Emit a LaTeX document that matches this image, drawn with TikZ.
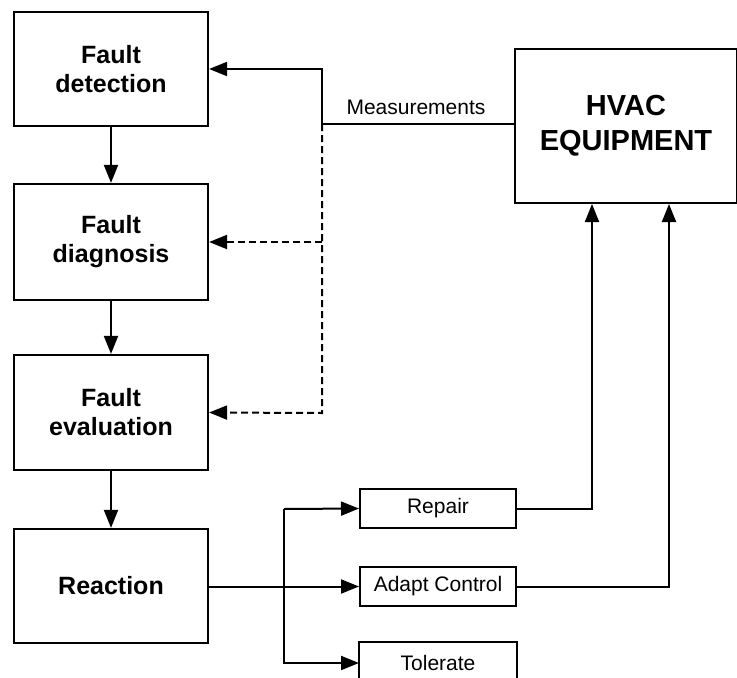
\documentclass[tikz,border=0pt]{standalone}
\usepackage{fontspec}
\setmainfont{Liberation Sans}
\usetikzlibrary{arrows.meta}
\begin{document}
\begin{tikzpicture}[x=1pt,y=-1pt,
  bigbox/.style={draw,line width=2.2pt,minimum width=194pt,minimum height=114pt,inner sep=0pt,align=center,font=\fontsize{25}{29}\selectfont\bfseries},
  smallbox/.style={draw,line width=2pt,minimum width=156pt,minimum height=39pt,inner sep=0pt,font=\fontsize{21}{24}\selectfont},
  conn/.style={line width=2pt,-{Triangle[length=18pt,width=14pt]}},
  dashconn/.style={line width=2pt,dash pattern=on 7pt off 4pt,-{Triangle[length=18pt,width=14pt]}}]
\useasboundingbox (0,0) rectangle (737,678);
\clip (0,0) rectangle (737,678);
\node[bigbox] (det) at (111,69) {Fault\\detection};
\node[bigbox,minimum height=116pt] (diag) at (111,242) {Fault\\diagnosis};
\node[bigbox,minimum height=115pt] (eval) at (111,412.5) {Fault\\evaluation};
\node[bigbox] (react) at (111,586) {Reaction};
\node[draw,line width=2.2pt,minimum width=222pt,minimum height=154pt,inner sep=0pt,align=center,
  font=\fontsize{29}{35}\selectfont\bfseries] (hvac) at (626,126) {HVAC\\EQUIPMENT};
\node[smallbox] (rep) at (438,508.5) {Repair};
\node[smallbox] (adapt) at (438,586.5) {Adapt Control};
\node[smallbox,draw=none,minimum height=40pt] (tol) at (438,663) {Tolerate};
\draw[line width=2pt] ([yshift=-30pt]tol.south west) -- (tol.north west) -- (tol.north east) -- ([yshift=-30pt]tol.south east);
\node[font=\fontsize{21}{24}\selectfont] (meas) at (416,107) {Measurements};
\coordinate (m) at (322,124);
\coordinate (d1) at (322,242);
\coordinate (d2) at (322,413);
\coordinate (b1) at (284,509);
\coordinate (b2) at (284,663);
\coordinate (h1) at (592,204);
\coordinate (h2) at (669,204);
% vertical chain
\draw[conn] (det) -- (diag);
\draw[conn] (diag) -- (eval);
\draw[conn] (eval) -- (react);
% measurements
\draw[conn] (m -| hvac.west) -- (m) |- (det.east);
\draw[dashconn] (m) -- (d2) -- (eval.east);
\draw[dashconn] (d1) -- (diag.east);
% reaction
\draw[conn] (react.east |- adapt.west) -- (adapt.west);
\draw[conn] (b1) -- (rep.west);
\draw[conn] (b1) -- (b2) -- (tol.west);
% to HVAC
\draw[conn] (rep.east) -| (h1);
\draw[conn] (adapt.east) -| (h2);
\end{tikzpicture}
\end{document}
